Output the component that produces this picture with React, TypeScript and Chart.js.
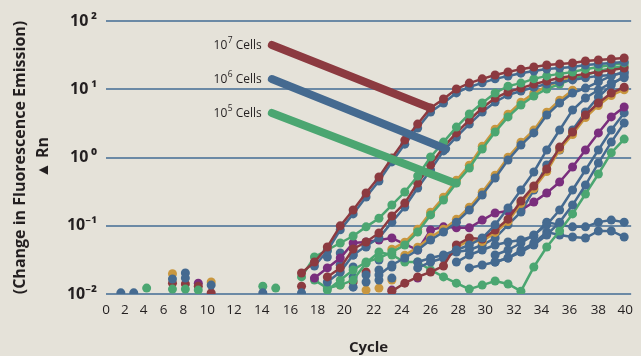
import React, { useEffect, useRef } from 'react';
import { Chart, registerables } from 'chart.js';

Chart.register(...registerables);

const BG = '#e5e2d9';
const GRID = '#6b89a5';
const TEXT = '#231f20';
const RED = '#8c3a40';
const BLUE = '#456a90';
const GREEN = '#4ba671';
const GOLD = '#c9973f';
const PURPLE = '#7a2e7d';
const FONT = "'Open Sans', 'Noto Sans', sans-serif";

// ---- axis labels ----
const xTickLabels = ['0', '2', '4', '6', '8', '10', '12', '14', '16', '18', '20', '22', '24', '26', '28', '30', '32', '34', '36', '38', '40'];
const xTickPositions = [-0.15, 1.31, 2.77, 4.31, 5.85, 7.69, 9.77, 11.92, 14.15, 16.23, 18.31, 20.6, 22.77, 25.0, 27.15, 29.23, 31.46, 33.6, 35.77, 38.0, 40.08];
const yTickValues = [0.01, 0.1, 1, 10, 100];
const yTickLabels = ['10\u207B\u00B2', '10\u207B\u00B9', '10\u2009\u2070', '10\u2009\u00B9', '10\u2009\u00B2'];

// ---- amplification curves (start cycle + ΔRn values per cycle) ----
const r1Start = 15;
const r1Values = [0.0203, 0.0294, 0.0488, 0.0996, 0.170, 0.302, 0.518, 0.985, 1.80, 3.09, 5.32, 7.20, 10.1, 12.3, 14.2, 16.2, 17.9, 19.7, 21.2, 22.7, 23.5, 24.3, 25.9, 26.8, 27.7, 28.7];
const b1Start = 16;
const b1Values = [0.0257, 0.0427, 0.0871, 0.149, 0.264, 0.453, 0.861, 1.57, 2.70, 4.65, 6.29, 8.83, 10.8, 12.4, 14.2, 15.6, 17.2, 18.5, 19.8, 20.5, 21.2, 22.6, 23.4, 24.2, 25.1];
const g1Start = 15;
const g1Values = [0.0178, 0.0349, 0.0441, 0.0559, 0.0708, 0.0963, 0.129, 0.201, 0.312, 0.536, 1.02, 1.68, 2.79, 4.34, 6.29, 8.82, 11.1, 12.3, 14.2, 15.7, 16.8, 17.9, 19.7, 21.2, 22.7, 24.3];
const r2Start = 17;
const r2Values = [0.0178, 0.0241, 0.0456, 0.0578, 0.0784, 0.139, 0.215, 0.423, 0.776, 1.42, 2.29, 3.54, 5.31, 7.45, 9.11, 10.4, 11.9, 13.2, 14.7, 15.7, 16.8, 17.9, 19.1, 20.4];
const b2Start = 17;
const b2Values = [0.0150, 0.0210, 0.0373, 0.0505, 0.0661, 0.113, 0.188, 0.357, 0.656, 1.25, 2.00, 3.09, 4.64, 6.50, 8.24, 9.43, 10.7, 11.9, 12.8, 13.7, 14.7, 15.7, 16.2, 17.3];
const g2Start = 17;
const g2Values = [0.0114, 0.0160, 0.0225, 0.0294, 0.0337, 0.0412, 0.0522, 0.0810, 0.144, 0.238, 0.423, 0.702, 1.33, 2.36, 3.93, 5.88, 7.97, 10.1, 11.9, 14.2, 16.2, 18.5, 20.4, 21.9];
const y1Start = 22;
const y1Values = [0.0453, 0.0574, 0.0891, 0.158, 0.262, 0.465, 0.772, 1.46, 2.60, 4.32, 6.47, 8.77, 11.1, 13.1, 15.6];
const b3Start = 21;
const b3Values = [0.0190, 0.0266, 0.0337, 0.0441, 0.0618, 0.0810, 0.113, 0.170, 0.282, 0.501, 0.92, 1.52, 2.29, 4.20, 6.29, 8.82, 10.4, 12.8, 15.7, 17.9];
const y2Start = 23;
const y2Values = [0.0371, 0.0485, 0.0680, 0.0891, 0.124, 0.187, 0.310, 0.551, 1.01, 1.67, 2.52, 4.62, 6.92, 9.70];
const b4Start = 24;
const b4Values = [0.0294, 0.0337, 0.0373, 0.0441, 0.0522, 0.0661, 0.103, 0.182, 0.334, 0.613, 1.29, 2.53, 4.96, 7.45, 9.75, 12.4, 14.7];
const r3Start = 22;
const r3Values = [0.0110, 0.0144, 0.0178, 0.0210, 0.0257, 0.0522, 0.0661, 0.0639, 0.0867, 0.125, 0.230, 0.382, 0.678, 1.42, 2.36, 4.20, 6.29, 8.82, 10.7];
const y3Start = 27;
const y3Values = [0.0480, 0.0608, 0.0588, 0.0798, 0.115, 0.212, 0.351, 0.624, 1.31, 2.17, 3.86, 5.79, 8.11, 9.84];
const b5Start = 24;
const b5Values = [0.0241, 0.0294, 0.0337, 0.0412, 0.0441, 0.0522, 0.0661, 0.103, 0.159, 0.334, 0.776, 1.29, 2.53, 4.64, 7.71, 11.5, 15.7];
const p1Start = 16;
const p1Values = [0.0171, 0.0241, 0.0337, 0.0559, 0.0578, 0.0618, 0.0661, 0.0540, 0.0441, 0.0867, 0.0963, 0.0931, 0.0931, 0.121, 0.154, 0.164, 0.170, 0.222, 0.302, 0.437, 0.726, 1.29, 2.29, 3.93, 5.50];
const b6Start = 30;
const b6Values = [0.0373, 0.0441, 0.0559, 0.0732, 0.103, 0.170, 0.334, 0.656, 1.29, 2.53, 4.50];
const b7Start = 30;
const b7Values = [0.0294, 0.0337, 0.0412, 0.0522, 0.0732, 0.113, 0.201, 0.395, 0.830, 1.68, 3.20];
const g3Start = 16;
const g3Values = [0.0160, 0.0122, 0.0135, 0.0160, 0.0285, 0.0412, 0.0373, 0.0294, 0.0294, 0.0225, 0.0178, 0.0144, 0.0118, 0.0135, 0.0155, 0.0140, 0.0110, 0.0249, 0.0488, 0.0838, 0.149, 0.292, 0.573, 1.17, 1.86];
const b8Start = 27;
const b8Values = [0.0294, 0.0373, 0.0441, 0.0522, 0.0578, 0.0618, 0.0708, 0.113, 0.103, 0.0963, 0.0963, 0.113, 0.121, 0.113];
const b9Start = 28;
const b9Values = [0.0241, 0.0266, 0.0294, 0.0337, 0.0441, 0.0559, 0.0810, 0.0732, 0.0685, 0.0661, 0.0838, 0.0838, 0.0685];

// ---- isolated background readings (not connected) ----
const dotsBlueCycles = [1, 2, 5, 6, 6, 8, 12, 15, 17, 18, 18, 19, 19, 19, 19, 20, 20, 20, 21, 21, 21, 22, 22];
const dotsBlueValues = [0.0104, 0.0104, 0.0166, 0.0203, 0.0171, 0.0135, 0.0104, 0.0104, 0.0349, 0.0400, 0.0266, 0.0373, 0.0249, 0.0178, 0.0126, 0.0488, 0.0190, 0.0150, 0.0315, 0.0225, 0.0160, 0.0249, 0.0171];
const dotsGreenCycles = [3, 5, 6, 7, 12, 13];
const dotsGreenValues = [0.0122, 0.0118, 0.0118, 0.0114, 0.0130, 0.0122];
const dotsRedCycles = [5, 6, 7, 8, 15, 19, 20];
const dotsRedValues = [0.0144, 0.0140, 0.0130, 0.0104, 0.0130, 0.0150, 0.0210];
const dotsGoldCycles = [5, 8, 18, 20, 21, 22];
const dotsGoldValues = [0.0198, 0.0150, 0.0135, 0.0114, 0.0122, 0.0160];
const dotsPurpleCycles = [7, 18, 22, 24];
const dotsPurpleValues = [0.0144, 0.0266, 0.0114, 0.0171];

// ---- cell-count call-outs ----
const calloutExponents = ['7', '6', '5'];
const calloutFromCycle = [12.7, 12.7, 12.7];
const calloutFromValue = [44.5, 14.1, 4.49];
const calloutToCycle = [25.0, 26.2, 26.9];
const calloutToValue = [5.3, 1.33, 0.42];
const calloutColors = [RED, BLUE, GREEN];

const curves = [
  { label: '10^7 a', color: RED, start: r1Start, values: r1Values },
  { label: '10^7 b', color: BLUE, start: b1Start, values: b1Values },
  { label: '10^6 a', color: GREEN, start: g1Start, values: g1Values },
  { label: '10^6 b', color: RED, start: r2Start, values: r2Values },
  { label: '10^6 c', color: BLUE, start: b2Start, values: b2Values },
  { label: '10^5 a', color: GREEN, start: g2Start, values: g2Values },
  { label: '10^5 b', color: GOLD, start: y1Start, values: y1Values },
  { label: '10^4 a', color: BLUE, start: b3Start, values: b3Values },
  { label: '10^4 b', color: GOLD, start: y2Start, values: y2Values },
  { label: '10^4 c', color: BLUE, start: b4Start, values: b4Values },
  { label: '10^3 a', color: RED, start: r3Start, values: r3Values },
  { label: '10^3 b', color: GOLD, start: y3Start, values: y3Values },
  { label: '10^3 c', color: BLUE, start: b5Start, values: b5Values },
  { label: '10^2 a', color: PURPLE, start: p1Start, values: p1Values },
  { label: '10^2 b', color: BLUE, start: b6Start, values: b6Values },
  { label: '10^2 c', color: BLUE, start: b7Start, values: b7Values },
  { label: '10^1 a', color: GREEN, start: g3Start, values: g3Values },
  { label: 'NTC a', color: BLUE, start: b8Start, values: b8Values },
  { label: 'NTC b', color: BLUE, start: b9Start, values: b9Values },
];

const dotGroups = [
  { label: 'bg blue', color: BLUE, cycles: dotsBlueCycles, values: dotsBlueValues },
  { label: 'bg green', color: GREEN, cycles: dotsGreenCycles, values: dotsGreenValues },
  { label: 'bg red', color: RED, cycles: dotsRedCycles, values: dotsRedValues },
  { label: 'bg gold', color: GOLD, cycles: dotsGoldCycles, values: dotsGoldValues },
  { label: 'bg purple', color: PURPLE, cycles: dotsPurpleCycles, values: dotsPurpleValues },
];

const bgPlugin = {
  id: 'bg',
  beforeDraw(chart: any) {
    const { ctx, width, height } = chart;
    ctx.save();
    ctx.fillStyle = BG;
    ctx.fillRect(0, 0, width, height);
    ctx.restore();
  },
};

const calloutPlugin = {
  id: 'callouts',
  afterDatasetsDraw(chart: any) {
    const { ctx, scales } = chart;
    const xs = scales.x;
    const ys = scales.y;
    ctx.save();
    for (let i = 0; i < calloutExponents.length; i++) {
      const x0 = xs.getPixelForValue(calloutFromCycle[i]);
      const y0 = ys.getPixelForValue(calloutFromValue[i]);
      const x1 = xs.getPixelForValue(calloutToCycle[i]);
      const y1 = ys.getPixelForValue(calloutToValue[i]);
      ctx.strokeStyle = calloutColors[i];
      ctx.lineWidth = 8;
      ctx.lineCap = 'round';
      ctx.beginPath();
      ctx.moveTo(x0, y0);
      ctx.lineTo(x1, y1);
      ctx.stroke();

      // label "10^n Cells", right-aligned before the line start
      ctx.fillStyle = TEXT;
      ctx.textBaseline = 'middle';
      ctx.textAlign = 'left';
      const mainFont = `12px ${FONT}`;
      const supFont = `8.5px ${FONT}`;
      ctx.font = mainFont;
      const wBase = ctx.measureText('10').width;
      const wCells = ctx.measureText(' Cells').width;
      ctx.font = supFont;
      const wSup = ctx.measureText(calloutExponents[i]).width;
      const right = x0 - 10;
      let x = right - (wBase + wSup + 0.5 + wCells);
      ctx.font = mainFont;
      ctx.fillText('10', x, y0 + 0.5);
      x += wBase + 0.5;
      ctx.font = supFont;
      ctx.fillText(calloutExponents[i], x, y0 - 4.5);
      x += wSup;
      ctx.font = mainFont;
      ctx.fillText(' Cells', x, y0 + 0.5);
    }
    ctx.restore();
  },
};

export default function App() {
  const ref = useRef<HTMLCanvasElement>(null);

  useEffect(() => {
    const canvas = ref.current;
    if (!canvas) return;
    Chart.defaults.font.family = FONT;

    const datasets: any[] = [];
    curves.forEach((c) => {
      datasets.push({
        label: c.label,
        data: c.values.map((v, i) => ({ x: c.start + i, y: v })),
        borderColor: c.color,
        backgroundColor: c.color,
        pointBackgroundColor: c.color,
        borderWidth: 2.5,
        pointRadius: 4.5,
        pointBorderWidth: 0,
        tension: 0,
        showLine: true,
      });
    });
    dotGroups.forEach((g) => {
      datasets.push({
        label: g.label,
        data: g.cycles.map((cy, i) => ({ x: cy, y: g.values[i] })),
        borderColor: g.color,
        backgroundColor: g.color,
        pointBackgroundColor: g.color,
        borderWidth: 0,
        pointRadius: 4.5,
        pointBorderWidth: 0,
        showLine: false,
      });
    });

    const chart = new Chart(canvas, {
      type: 'line',
      data: { datasets },
      options: {
        animation: false,
        responsive: true,
        maintainAspectRatio: false,
        layout: { padding: { left: 0, right: 6, top: 21, bottom: 0 } },
        plugins: {
          legend: { display: false },
          tooltip: { enabled: false },
        },
        scales: {
          x: {
            type: 'linear',
            min: -0.15,
            max: 40.54,
            grid: { display: false, drawTicks: false },
            border: { display: false },
            afterBuildTicks: (scale: any) => {
              scale.ticks = xTickPositions.map((v) => ({ value: v }));
            },
            afterFit: (scale: any) => {
              scale.height = 63;
            },
            ticks: {
              autoSkip: false,
              maxRotation: 0,
              padding: 8,
              color: TEXT,
              font: { size: 13.5, family: FONT },
              callback: (_v: any, i: number) => xTickLabels[i],
            },
            title: {
              display: true,
              text: 'Cycle',
              color: TEXT,
              font: { size: 15, weight: 'bold', family: FONT },
              padding: { top: 0, bottom: 0 },
            },
          },
          y: {
            type: 'logarithmic',
            min: 0.01,
            max: 100,
            grid: { color: GRID, lineWidth: 2, drawTicks: false },
            border: { display: false },
            afterBuildTicks: (scale: any) => {
              scale.ticks = yTickValues.map((v) => ({ value: v }));
            },
            afterFit: (scale: any) => {
              scale.width = 106;
            },
            ticks: {
              padding: 9,
              color: TEXT,
              font: { size: 16, weight: 'bold', family: FONT },
              callback: (_v: any, i: number) => yTickLabels[i],
            },
            title: {
              display: true,
              text: ['(Change in Fluorescence Emission)', '\u25B2 Rn'],
              color: TEXT,
              font: { size: 16, weight: 'bold', family: FONT, lineHeight: 1.44 },
              padding: { top: 8.5, bottom: 0 },
            },
          },
        },
      },
      plugins: [bgPlugin, calloutPlugin],
    } as any);

    return () => chart.destroy();
  }, []);

  return (
    <div style={{ position: 'fixed', left: 0, top: 0, width: 641, height: 356, overflow: 'hidden', background: BG }}>
      <div style={{ position: 'relative', width: 641, height: 357 }}>
        <canvas ref={ref} />
      </div>
    </div>
  );
}
